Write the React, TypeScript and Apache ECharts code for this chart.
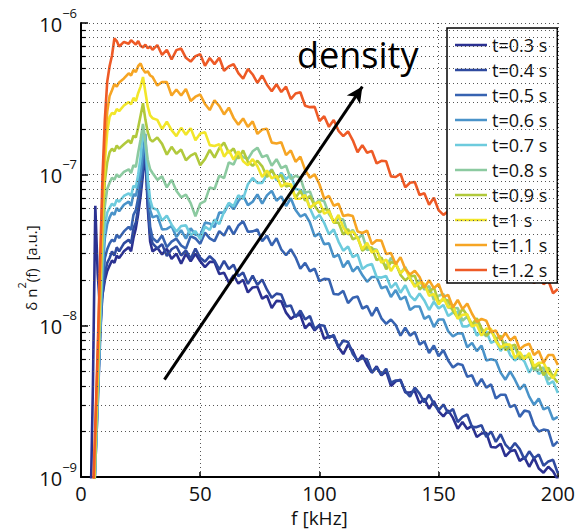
import React, { useEffect, useRef } from "react";
import * as echarts from "echarts";

// frequency samples (kHz)
const F = [4,5,6,7,8,9,10,11,12,13,14,15,16,18,20,21,22,23,24,25,26,27,28,29,30,
32,34,36,38,40,42,44,46,48,50,52,54,56,58,60,62,64,66,68,70,72,74,76,78,80,
82,84,86,88,90,92,94,96,98,100,102,104,106,108,110,112,114,116,118,120,
122,124,126,128,130,132,134,136,138,140,142,144,146,148,150,152,154,156,158,160,
162,164,166,168,170,172,174,176,178,180,182,184,186,188,190,192,194,196,198,200];

// spectra in units of 1e-9 a.u.
const T03 = [0.6,4,62,22,13,16,20,23,25,27,26,29,28,31,33,31,38,44,55,72,100,140,60,36,31,
32.7,29.6,32.2,27.6,29.9,25.7,29.9,26.7,29.9,26.7,24.4,26.4,26.4,22,22.4,19.3,21.6,19,20.1,16.6,17.9,
18.1,15.1,15.8,13.1,14.6,14.5,12.2,11.1,11.7,11.8,9.6,10.4,9.3,10.1,8.2,8.5,8.5,7.2,6.5,7.5,
6.8,5.8,6.4,5.5,4.9,5.4,4.7,5.0,4.0,4.3,4.4,3.63,3.62,3.71,3.07,3.3,2.83,3.18,2.72,2.52,
2.76,2.46,2.09,2.31,2.08,2.18,1.84,1.94,1.96,1.58,1.57,1.66,1.37,1.48,1.51,1.28,1.35,1.17,1.34,1.14,
1.07,1.17,1.09,0.96];
const T04 = [0.3,0.5,1.3,3.5,9,16,22,26,28,31,29,33,31,35,37,35,44,48,60,80,110,150,65,40,35,
32.4,34.6,28.9,32,33.5,29.1,31.4,27.7,32.3,28.1,26.5,28.8,26.9,23.5,26.8,23.7,25.3,21.2,22.5,18.9,
21.4,18.6,20.2,17.3,15.3,16.3,16.1,13.4,13.6,11.4,12.6,11,11.6,9.5,10.1,
10,8.3,8.7,7.2,8.0,7.8,6.5,5.9,6.1,6.0,4.9,5.3,4.75,5.2,4.2,4.35,4.35,3.7,3.4,3.9,
3.56,3.12,3.5,3.04,2.76,3.02,2.65,2.82,2.31,2.5,2.59,2.14,2.14,2.2,1.84,2.0,1.71,1.92,1.64,1.52,
1.68,1.53,1.31,1.48,1.33,1.41,1.19,1.27,1.3,1.06];
const T05 = [0.3,0.5,1.2,3,8,18,28,32,35,37,36,40,38,42,45,43,54,58,70,90,120,165,75,45,38,
35.6,39.4,33,35.9,37.6,33.9,32.3,39.1,37.7,34.8,41.2,37.8,36.2,42.2,39.4,45.6,40.2,45.9,49,41.8,
42,43.2,36.2,39.4,33.9,37.8,31.9,29.3,32,28.3,23.8,26,22.9,23.8,19.7,20.4,20.3,16.2,16.1,17,
14.1,15.3,15.6,13,13.5,11.6,13.2,11.2,10.3,11,10.1,8.6,9.7,8.6,9.1,7.5,7.9,6.6,7.4,6.3,
6.9,5.9,5.3,5.6,5.5,4.6,4.7,4.0,4.45,3.9,4.1,3.3,3.5,3.5,2.9,3.0,2.5,2.75,2.7,2.2,
2.0,2.06,2.03,1.6,1.72];
const T06 = [0.3,0.5,1.2,3,9,22,38,47,52,56,54,60,57,63,66,62,74,72,85,105,140,185,85,58,52,
53.4,43.3,43.6,45.6,38.6,42.8,37.6,44,40,39.5,48,47.3,44.8,56,55.9,64,58.8,66.7,72.4,62.6,
66,73.8,64,72.6,77.8,66.9,71.6,61.8,69.5,58.2,52.6,54.6,48.1,38.9,40.7,34.5,35,28.4,29.5,24.3,
26.9,22.8,24.6,21.6,19.5,21,21,17.7,18.2,15.5,17.2,14.9,15.6,12.7,13.4,13.4,11.1,11.6,9.8,11,
11,9.2,8.5,8.9,8.9,7.2,7.7,6.8,7.4,5.9,6.0,5.9,4.9,4.4,5.0,4.4,3.8,4.1,3.4,3.0,
3.3,2.8,2.9,2.4,2.5];
const T07 = [0.3,0.5,1.2,3.5,10,28,46,56,60,64,62,68,66,72,75,72,84,82,100,130,200,160,95,68,60,
58.3,49.4,53.4,46.5,41.9,45.6,46,39.7,42.2,37.3,45.2,42.9,50.3,46.9,56.7,64.8,61.5,72.9,68.8,86.1,
94.6,87.9,87.8,100,108,91,102.5,93,100,80,78.8,74.2,59.7,50.8,54,47.8,40.2,43.2,36,31.3,
33.4,28.4,29.6,23.7,25,25.6,21,20.8,21.3,17.8,19.2,16.5,18.5,15.8,14.7,16.3,14.7,12.7,14.4,13,
13.7,11.6,12.2,12.3,9.9,9.9,10.4,8.6,9.1,9.2,7.7,8.0,6.8,7.6,6.4,5.9,6.3,5.8,4.9,5.5,
4.8,5.0,4.1,4.3,3.6];
const T08 = [0.3,0.5,1.3,4,12,35,62,80,88,95,92,100,96,104,108,102,115,112,140,170,215,165,125,108,102,
92,97,82,92,78,70.5,73.5,64.6,52.8,64,66.6,82,80,98,94.5,120,116,138,130,126,
142,150,130,134,114,126,110,114,93,98,95,76,77,63,68,66.5,54.7,49.1,51,50.3,
40,43,37.6,40,31.6,32.3,31.8,27,24.5,28.1,25.5,22.2,24.4,20.8,18.4,20,17.3,18.3,14.8,15.8,
16.2,13.2,13,13.1,10.8,11.5,9.8,10.8,9.1,8.5,9.3,8.3,7.0,7.8,6.9,7.2,6.0,6.3,6.3,5.1,
5.1,5.3,4.4,4.7,4.75];
const T09 = [0.3,0.5,1.5,4.5,15,45,90,120,140,148,142,155,148,158,168,160,180,175,205,245,295,230,190,170,165,
175,159,135,152,137,146,124,133,138,115,126,145,129,149,162,139,148,127,144,121,
114,123,113,96,107,94,99,83,85,70,78,67,72,62,56,59,58,48,48,40,
43.5,37.2,38.5,31.3,33,32.8,27.1,28.2,23.6,26.3,25.9,21.7,19.9,21.2,21.4,17.3,18.7,16.6,17.9,14.4,
14.8,14.7,12.5,11.3,13,11.7,10.2,11.2,9.6,8.6,9.3,8.1,8.6,6.9,7.3,7.5,6.2,6.1,6.3,5.2,
5.6,4.7,5.3,4.6,4.2];
const T10 = [0.3,0.5,1.8,5,18,55,120,190,240,255,250,270,262,285,300,290,320,305,345,380,440,350,280,245,235,
229,199,223,196,179,203,183,202,168,186,190,156,154,158,131,144,125,142,122,115,
126,113,96,106,94,98,83,87,86,69,69,73,60,64,66,55,57,48,54,44.6,
40.4,42,38,32,35.3,30.4,31.6,26.1,27.4,23,25.8,22.2,23.9,20.5,18.1,19.2,18.9,15.8,16.2,13.8,
15.3,13.2,13.7,11.1,11.8,11.9,9.9,10.2,8.6,9.6,9.5,7.9,7.2,7.5,7.5,6.1,6.7,6.0,6.6,5.4,
5.7,5.7,4.9,4.5,5.2];
const T11 = [0.3,0.6,2,6,22,70,160,260,330,360,395,380,405,430,465,450,490,475,520,540,495,470,480,450,440,
386,408,407,332,364,332,367,305,326,337,292,266,308,283,249,276,236,213,234,206,
224,185,198,200,162,160,163,134,144,121,131,107,95,100,86,69,72,62,64,53,
54,53,42,41,42.4,34.6,36.7,36.5,29.8,30.2,25.5,28.4,23.7,21.8,23.1,21,17.8,20,17.7,18.9,
15.5,16,13.2,14.8,12.9,14,12,10.6,11.1,10.8,9.1,9.3,8.0,9.0,8.0,8.5,7.0,7.4,7.6,6.4,
6.8,5.7,6.4,6.4,5.5];
const T12 = [0.3,0.7,2.2,7,26,95,230,410,520,610,790,760,700,750,730,770,745,720,760,705,690,720,680,700,665,
715,615,665,574,662,678,589,556,604,621,521,587,535,590,484,517,534,467,428,497,
457,402,450,391,354,394,350,380,314,342,349,284,278,279,225,242,206,229,194,179,
192,168,140,156,139,143,118,123,122,97,96,101,82,88,89,73,75,63,70,58,
54,57,52,44,49,43,45,38,39,32.4,36.5,31.5,34,29.3,26,27.9,27.6,23,23,19.1,
21.4,18.8,19.9,16.4,17.5];

const NAMES = ["t=0.3 s","t=0.4 s","t=0.5 s","t=0.6 s","t=0.7 s","t=0.8 s","t=0.9 s","t=1 s","t=1.1 s","t=1.2 s"];
const VALUES = [T03,T04,T05,T06,T07,T08,T09,T10,T11,T12];
const COLORS = ["#2b3191","#2f4a9f","#3763b1","#4a93c9","#6dcbdd","#8ccaa0","#b1c93c","#f2e62a","#f6a524","#ee5a26"];

const MINOR_GRID = [2,3,4,5,6,7,8,9,20,30,40,50,60,70,80,90,200,300,400,500,600,700,800,900];
const MINOR_TICK_LEN = 2; // kHz
const ARROW_FROM = [35, 4.4];
const ARROW_TO = [118, 380];
const FONT = "Open Sans";

export default function App() {
  const ref = useRef<HTMLDivElement>(null);
  useEffect(() => {
    if (!ref.current) return;
    const chart = echarts.init(ref.current, null, { renderer: "svg" });
    const dotted = { color: "#555", width: 1, type: [1, 3] as any };
    const series: any[] = [
      {
        name: "__grid", type: "line", data: [], silent: true, z: 1,
        markLine: {
          silent: true, symbol: ["none", "none"], label: { show: false },
          lineStyle: dotted, emphasis: { disabled: true },
          data: MINOR_GRID.map((v) => ({ yAxis: v })),
        },
      },
      {
        name: "__ticks", type: "line", data: [], silent: true, z: 3,
        markLine: {
          silent: true, symbol: ["none", "none"], label: { show: false },
          lineStyle: { color: "#000", width: 1.2, type: "solid" }, emphasis: { disabled: true },
          data: MINOR_GRID.map((v) => [{ coord: [0, v] }, { coord: [MINOR_TICK_LEN, v] }]),
        },
      },
      ...VALUES.map((vals, i) => ({
        name: NAMES[i], type: "line", showSymbol: false, symbol: "none", z: 2,
        clip: true,
        color: COLORS[i],
        lineStyle: { width: 2.6, color: COLORS[i] },
        data: F.map((f, j) => [f, vals[j]]),
      })),
      {
        name: "__arrow", type: "line", data: [], silent: true, z: 6,
        markLine: {
          silent: true, symbol: ["none", "arrow"], symbolSize: [12, 16],
          label: { show: false }, emphasis: { disabled: true },
          lineStyle: { color: "#000", width: 3, type: "solid" },
          data: [[{ coord: ARROW_FROM }, { coord: ARROW_TO }]],
        },
      },
    ];
    chart.setOption({
      animation: false,
      backgroundColor: "#fff",
      textStyle: { fontFamily: FONT },
      grid: { left: 81, right: 15, top: 23, bottom: 45 },
      legend: {
        data: NAMES, orient: "vertical", left: 447, top: 28,
        icon: "rect", itemWidth: 32, itemHeight: 2.5, itemGap: 5,
        backgroundColor: "#fff", borderColor: "#000", borderWidth: 1.5,
        padding: [7, 10, 3, 8], selectedMode: false,
        textStyle: { fontSize: 18, color: "#111", lineHeight: 20, fontFamily: FONT },
      },
      graphic: [
        {
          type: "text", left: 297, top: 36, z: 10,
          style: { text: "density", fontSize: 36, fill: "#000", fontFamily: FONT },
        },
        {
          type: "text", x: 27, y: 268, rotation: Math.PI / 2, z: 10,
          style: {
            text: "{a|δ n}{s|2}{a|(f)  [a.u.]}",
            align: "center", verticalAlign: "middle", fill: "#111", fontFamily: FONT,
            rich: {
              a: { fontSize: 15, lineHeight: 22, verticalAlign: "bottom", fontFamily: FONT, fill: "#111" },
              s: { fontSize: 11, lineHeight: 22, verticalAlign: "top", fontFamily: FONT, fill: "#111" },
            },
          },
        },
      ],
      xAxis: {
        type: "value", min: 0, max: 200, interval: 50,
        name: "f [kHz]", nameLocation: "middle", nameGap: 24,
        nameTextStyle: { fontSize: 19, color: "#111", fontFamily: FONT },
        axisLine: { show: true, onZero: false, lineStyle: { color: "#000", width: 2 } },
        axisTick: { inside: true, length: 5, lineStyle: { color: "#000", width: 1.5 } },
        axisLabel: { fontSize: 20, color: "#111", margin: 6, fontFamily: FONT },
        splitLine: { show: true, lineStyle: dotted },
      },
      yAxis: {
        type: "log", logBase: 10, min: 1, max: 1000,
        axisLine: { show: true, lineStyle: { color: "#000", width: 2 } },
        axisTick: { inside: true, length: 7, lineStyle: { color: "#000", width: 1.5 } },
        axisLabel: {
          margin: 4, color: "#111", padding: [0, 0, 6, 0],
          formatter: (v: number) => `{b|10}{s|−${9 - Math.round(Math.log10(v))}}`,
          rich: {
            b: { fontSize: 20, lineHeight: 28, verticalAlign: "bottom", fontFamily: FONT, color: "#111" },
            s: { fontSize: 13, lineHeight: 12, verticalAlign: "top", fontFamily: FONT, color: "#111" },
          },
        },
        splitLine: { show: true, lineStyle: dotted },
      },
      series,
    });
    return () => chart.dispose();
  }, []);
  return <div ref={ref} style={{ width: 578, height: 532, position: "absolute", left: 0, top: 0 }} />;
}
